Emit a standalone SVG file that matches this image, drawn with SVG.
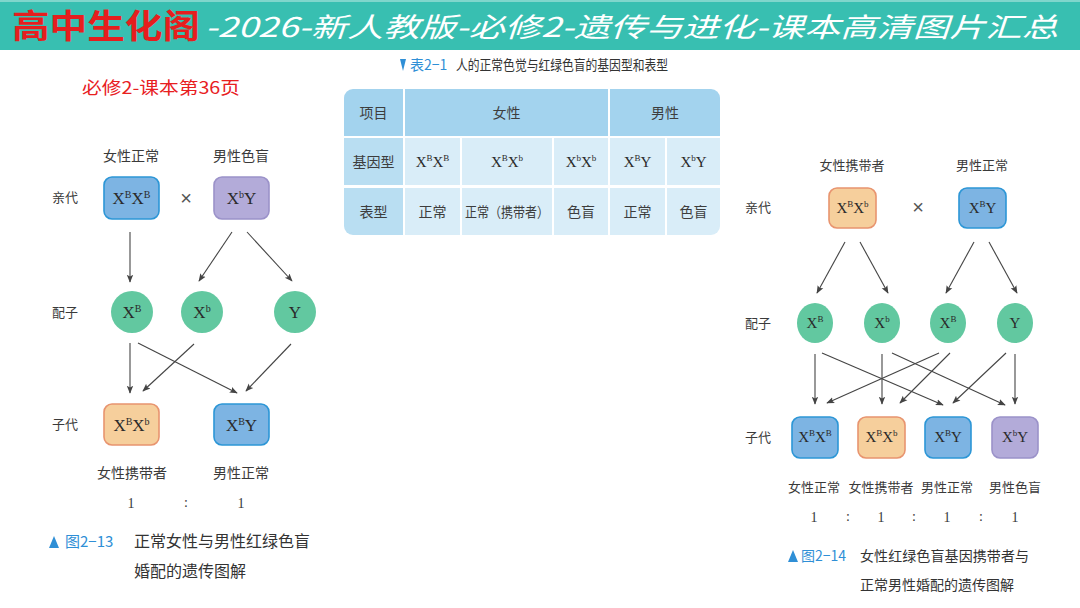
<svg xmlns="http://www.w3.org/2000/svg" width="1080" height="608" viewBox="0 0 1080 608">
<style>
.lbl{font-family:"Noto Sans CJK SC","Noto Sans",sans-serif;font-size:14px;fill:#3a3a3a;text-anchor:middle}
.lbs{font-family:"Noto Sans CJK SC","Noto Sans",sans-serif;font-size:13px;fill:#3a3a3a;text-anchor:middle}
.side{font-family:"Noto Sans CJK SC","Noto Sans",sans-serif;font-size:13px;fill:#3a3a3a}
.gt{font-family:"Liberation Serif",serif;font-size:17px;fill:#2a2a2a;text-anchor:middle}
.gs{font-family:"Liberation Serif",serif;font-size:15px;fill:#2a2a2a;text-anchor:middle}
.num{font-family:"Liberation Serif",serif;font-size:14px;fill:#3a3a3a;text-anchor:middle}
.blue{fill:#7db4e3;stroke:#2c96d6;stroke-width:1.6}
.purple{fill:#b3abd9;stroke:#9b92c9;stroke-width:1.6}
.orange{fill:#f6cf9c;stroke:#e8946f;stroke-width:1.6}
.gam{fill:#62c8a0}
.ar{stroke:#444;stroke-width:1.1;fill:none;marker-end:url(#ah)}
.cap{font-family:"Noto Sans CJK SC","Noto Sans",sans-serif;fill:#333}
.capb{font-family:"Noto Sans CJK SC","Noto Sans",sans-serif;fill:#2f8fd6}
.th{fill:#a3d3ee}.tc{fill:#b9def2}.td{fill:#d9edf8}
.tt{font-family:"Noto Sans CJK SC","Noto Sans",sans-serif;font-size:14px;fill:#3d3d3d;text-anchor:middle}
</style>
<defs>
<marker id="ah" viewBox="0 0 10 10" refX="9" refY="5" markerWidth="8" markerHeight="8" markerUnits="userSpaceOnUse" orient="auto">
<path d="M0,1 L10,5 L0,9 L2,5 Z" fill="#444"/>
</marker>
</defs>
<rect width="1080" height="608" fill="#fff"/>
<g id="header">
<rect x="0" y="0" width="1080" height="50" fill="#38bfb1"/>
<rect x="0" y="0" width="1080" height="2" fill="#7fd6cc"/>
<text x="12" y="38" font-family="Noto Sans CJK SC,sans-serif" font-weight="bold" font-size="33" fill="#e61e1e" textLength="188" lengthAdjust="spacingAndGlyphs">高中生化阁</text>
<text x="205" y="37" font-family="Noto Sans CJK SC,sans-serif" font-style="italic" font-size="27" fill="#fff" textLength="853" lengthAdjust="spacingAndGlyphs">-2026-新人教版-必修2-遗传与进化-课本高清图片汇总</text>
</g>
<text x="82" y="94" font-family="Noto Sans CJK SC,sans-serif" font-size="17" fill="#e8201f" textLength="158" lengthAdjust="spacingAndGlyphs">必修2-课本第36页</text>

<!-- Left diagram -->
<g id="left-labels">
<text class="lbl" x="131" y="161">女性正常</text>
<text class="lbl" x="241" y="161">男性色盲</text>
<text class="side" x="52" y="202">亲代</text>
<text class="side" x="52" y="317">配子</text>
<text class="side" x="52" y="429">子代</text>
<text x="186" y="205" font-family="Liberation Sans,sans-serif" font-size="20" fill="#555" text-anchor="middle">×</text>
</g>
<g id="L-p1"><rect class="blue" x="104" y="177" width="55" height="42" rx="8"/><text class="gt" x="131.5" y="204">X<tspan font-size="10" dy="-6">B</tspan><tspan dy="6">X</tspan><tspan font-size="10" dy="-6">B</tspan></text></g>
<g id="L-p2"><rect class="purple" x="214" y="177" width="55" height="42" rx="8"/><text class="gt" x="241.5" y="204">X<tspan font-size="10" dy="-6">b</tspan><tspan dy="6">Y</tspan></text></g>
<g id="L-g1"><circle class="gam" cx="132" cy="312" r="21"/><text class="gt" x="132" y="318">X<tspan font-size="10" dy="-6">B</tspan></text></g>
<g id="L-g2"><circle class="gam" cx="202" cy="312" r="21"/><text class="gt" x="202" y="318">X<tspan font-size="10" dy="-6">b</tspan></text></g>
<g id="L-g3"><circle class="gam" cx="295" cy="312" r="21"/><text class="gt" x="295" y="318">Y</text></g>
<g id="L-o1"><rect class="orange" x="104" y="404" width="55" height="41" rx="8"/><text class="gt" x="131.5" y="431">X<tspan font-size="10" dy="-6">B</tspan><tspan dy="6">X</tspan><tspan font-size="10" dy="-6">b</tspan></text></g>
<g id="L-o2"><rect class="blue" x="214" y="404" width="55" height="41" rx="8"/><text class="gt" x="241.5" y="431">X<tspan font-size="10" dy="-6">B</tspan><tspan dy="6">Y</tspan></text></g>
<g id="left-connectors">
<line class="ar" x1="130" y1="232" x2="130" y2="282"/>
<line class="ar" x1="232" y1="232" x2="199" y2="281"/>
<line class="ar" x1="247" y1="232" x2="292" y2="281"/>
<line class="ar" x1="130" y1="343" x2="130" y2="393"/>
<line class="ar" x1="138" y1="343" x2="237" y2="393"/>
<line class="ar" x1="194" y1="344" x2="143" y2="391"/>
<line class="ar" x1="291" y1="344" x2="246" y2="391"/>
</g>
<g id="left-bottom">
<text class="lbl" x="132" y="478">女性携带者</text>
<text class="lbl" x="241" y="478">男性正常</text>
<text class="num" x="131" y="508">1</text>
<text class="num" x="186" y="507">:</text>
<text class="num" x="241" y="508">1</text>
<path d="M49,548 L54,536 L59,548 Z" fill="#2f8fd6"/>
<text class="capb" x="65" y="547" font-size="15">图2−13</text>
<text class="cap" x="134" y="547" font-size="16" textLength="176">正常女性与男性红绿色盲</text>
<text class="cap" x="134" y="577" font-size="16">婚配的遗传图解</text>
</g>

<!-- Table -->
<g id="table">
<path d="M400,59 L406,59 L403,71 Z" fill="#2f8fd6"/>
<text class="capb" x="410" y="70" font-size="14">表2−1</text>
<text class="cap" x="456" y="70" font-size="14" textLength="212" lengthAdjust="spacingAndGlyphs">人的正常色觉与红绿色盲的基因型和表型</text>
<clipPath id="tclip"><rect x="344" y="89" width="376" height="146" rx="9"/></clipPath>
<g clip-path="url(#tclip)">
<rect x="344" y="89" width="376" height="146" fill="#fff"/>
<rect class="th" x="344" y="89" width="59" height="47"/>
<rect class="th" x="405" y="89" width="203" height="47"/>
<rect class="th" x="610" y="89" width="110" height="47"/>
<rect class="tc" x="344" y="138" width="59" height="47"/>
<rect class="tc" x="344" y="188" width="59" height="47"/>
<rect class="td" x="405" y="138" width="55" height="47"/>
<rect class="td" x="462" y="138" width="90" height="47"/>
<rect class="td" x="554" y="138" width="54" height="47"/>
<rect class="td" x="610" y="138" width="55" height="47"/>
<rect class="td" x="667" y="138" width="53" height="47"/>
<rect class="td" x="405" y="188" width="55" height="47"/>
<rect class="td" x="462" y="188" width="90" height="47"/>
<rect class="td" x="554" y="188" width="54" height="47"/>
<rect class="td" x="610" y="188" width="55" height="47"/>
<rect class="td" x="667" y="188" width="53" height="47"/>
</g>
<text class="tt" x="373.5" y="118">项目</text>
<text class="tt" x="506.5" y="118">女性</text>
<text class="tt" x="665" y="118">男性</text>
<text class="tt" x="373.5" y="167">基因型</text>
<text class="gs" x="432.5" y="167">X<tspan font-size="9" dy="-6">B</tspan><tspan dy="6">X</tspan><tspan font-size="9" dy="-6">B</tspan></text>
<text class="gs" x="507" y="167">X<tspan font-size="9" dy="-6">B</tspan><tspan dy="6">X</tspan><tspan font-size="9" dy="-6">b</tspan></text>
<text class="gs" x="581" y="167">X<tspan font-size="9" dy="-6">b</tspan><tspan dy="6">X</tspan><tspan font-size="9" dy="-6">b</tspan></text>
<text class="gs" x="637.5" y="167">X<tspan font-size="9" dy="-6">B</tspan><tspan dy="6">Y</tspan></text>
<text class="gs" x="693.5" y="167">X<tspan font-size="9" dy="-6">b</tspan><tspan dy="6">Y</tspan></text>
<text class="tt" x="373.5" y="217">表型</text>
<text class="tt" x="432.5" y="217" font-size="13">正常</text>
<text class="tt" x="507" y="217" font-size="13" textLength="84" lengthAdjust="spacingAndGlyphs">正常（携带者）</text>
<text class="tt" x="581" y="217" font-size="13">色盲</text>
<text class="tt" x="637.5" y="217" font-size="13">正常</text>
<text class="tt" x="693.5" y="217" font-size="13">色盲</text>
</g>

<!-- Right diagram -->
<g id="right-labels">
<text class="lbs" x="852" y="170">女性携带者</text>
<text class="lbs" x="982" y="170">男性正常</text>
<text class="side" x="745" y="212">亲代</text>
<text class="side" x="745" y="328">配子</text>
<text class="side" x="745" y="442">子代</text>
<text x="918" y="214" font-family="Liberation Sans,sans-serif" font-size="20" fill="#555" text-anchor="middle">×</text>
</g>
<g id="R-p1"><rect class="orange" x="829" y="188" width="47" height="40" rx="8"/><text class="gs" x="852.5" y="213">X<tspan font-size="9" dy="-6">B</tspan><tspan dy="6">X</tspan><tspan font-size="9" dy="-6">b</tspan></text></g>
<g id="R-p2"><rect class="blue" x="959" y="188" width="47" height="40" rx="8"/><text class="gs" x="982.5" y="213">X<tspan font-size="9" dy="-6">B</tspan><tspan dy="6">Y</tspan></text></g>
<g id="R-g1"><ellipse class="gam" cx="815" cy="323" rx="18" ry="20"/><text class="gs" x="815" y="328">X<tspan font-size="9" dy="-6">B</tspan></text></g>
<g id="R-g2"><ellipse class="gam" cx="882" cy="323" rx="18" ry="20"/><text class="gs" x="882" y="328">X<tspan font-size="9" dy="-6">b</tspan></text></g>
<g id="R-g3"><ellipse class="gam" cx="948" cy="323" rx="18" ry="20"/><text class="gs" x="948" y="328">X<tspan font-size="9" dy="-6">B</tspan></text></g>
<g id="R-g4"><ellipse class="gam" cx="1015" cy="323" rx="18" ry="20"/><text class="gs" x="1015" y="328">Y</text></g>
<g id="R-o1"><rect class="blue" x="792" y="417" width="46" height="41" rx="8"/><text class="gs" x="815" y="442">X<tspan font-size="9" dy="-6">B</tspan><tspan dy="6">X</tspan><tspan font-size="9" dy="-6">B</tspan></text></g>
<g id="R-o2"><rect class="orange" x="858" y="417" width="47" height="41" rx="8"/><text class="gs" x="881.5" y="442">X<tspan font-size="9" dy="-6">B</tspan><tspan dy="6">X</tspan><tspan font-size="9" dy="-6">b</tspan></text></g>
<g id="R-o3"><rect class="blue" x="925" y="417" width="46" height="41" rx="8"/><text class="gs" x="948" y="442">X<tspan font-size="9" dy="-6">B</tspan><tspan dy="6">Y</tspan></text></g>
<g id="R-o4"><rect class="purple" x="992" y="417" width="46" height="41" rx="8"/><text class="gs" x="1015" y="442">X<tspan font-size="9" dy="-6">b</tspan><tspan dy="6">Y</tspan></text></g>
<g id="right-connectors">
<line class="ar" x1="845" y1="242" x2="817" y2="293"/>
<line class="ar" x1="860" y1="242" x2="888" y2="293"/>
<line class="ar" x1="974" y1="242" x2="946" y2="293"/>
<line class="ar" x1="989" y1="242" x2="1017" y2="293"/>
<line class="ar" x1="815" y1="354" x2="815" y2="404"/>
<line class="ar" x1="822" y1="353" x2="943" y2="405"/>
<line class="ar" x1="882" y1="354" x2="882" y2="404"/>
<line class="ar" x1="892" y1="353" x2="1005" y2="405"/>
<line class="ar" x1="939" y1="353" x2="827" y2="403"/>
<line class="ar" x1="950" y1="353" x2="900" y2="403"/>
<line class="ar" x1="1006" y1="353" x2="953" y2="403"/>
<line class="ar" x1="1015" y1="354" x2="1015" y2="404"/>
</g>
<g id="right-bottom">
<text class="lbs" x="814" y="492">女性正常</text>
<text class="lbs" x="881" y="492">女性携带者</text>
<text class="lbs" x="947" y="492">男性正常</text>
<text class="lbs" x="1015" y="492">男性色盲</text>
<text class="num" x="814" y="522">1</text>
<text class="num" x="848" y="521">:</text>
<text class="num" x="881" y="522">1</text>
<text class="num" x="914" y="521">:</text>
<text class="num" x="947" y="522">1</text>
<text class="num" x="981" y="521">:</text>
<text class="num" x="1015" y="522">1</text>
<path d="M788,562 L793,550 L798,562 Z" fill="#2f8fd6"/>
<text class="capb" x="801" y="561" font-size="14">图2−14</text>
<text class="cap" x="860" y="561" font-size="14" textLength="169">女性红绿色盲基因携带者与</text>
<text class="cap" x="860" y="590" font-size="14">正常男性婚配的遗传图解</text>
</g>
</svg>
